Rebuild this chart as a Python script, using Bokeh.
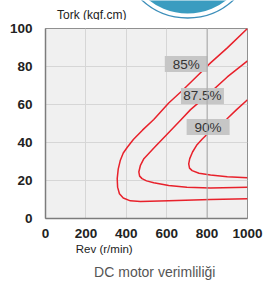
from bokeh.plotting import figure
from bokeh.models import Range1d, FixedTicker, Span
from bokeh.layouts import column
from bokeh.embed import file_html
from bokeh.resources import INLINE
from bokeh.core.properties import value

# ---- data ----
rev_85 = [1000, 900, 817, 751, 680, 610, 536, 480, 436, 405, 385, 370, 360, 355, 357, 366, 385, 420, 470, 610, 817, 1000]
tork_85 = [100, 89.8, 81.9, 75, 67.6, 60.8, 52.1, 46.5, 41.7, 37.5, 34.5, 30.5, 26, 21, 16.5, 13, 10.8, 9.3, 8.9, 9.3, 10.0, 10.4]

rev_875 = [1000, 900, 800, 718, 672, 602, 540, 487, 470, 462, 466, 478, 500, 536, 610, 700, 817, 1000]
tork_875 = [83, 74.5, 64.8, 57.3, 52.1, 44.3, 37.5, 31.5, 28, 24.5, 22.3, 21.0, 19.8, 18.8, 17.4, 16.5, 16.1, 16.5]

rev_90 = [1000, 946, 899, 850, 800, 775, 748, 728, 714, 709, 713, 726, 760, 817, 900, 1000]
tork_90 = [62.5, 57.3, 52.5, 48.3, 44.3, 41.7, 38.5, 35, 31.5, 28.8, 26.5, 25.2, 23.8, 22.9, 22, 21.4]

eff_labels = ["85%", "87.5%", "90%"]
eff_label_rev = [697, 777, 805]
eff_label_tork = [81.3, 64.5, 48.1]

x_ticks = [0, 200, 400, 600, 800, 1000]
y_ticks = [0, 20, 40, 60, 80, 100]

FONT = "Liberation Sans"
RED = "#e8212b"
W = 280

# ---- header (circle decoration + y title) ----
hdr = figure(width=W, height=20, x_range=Range1d(0, W), y_range=Range1d(0, 20),
             toolbar_location=None, output_backend="svg", min_border=0)
hdr.axis.visible = False
hdr.grid.visible = False
hdr.outline_line_color = None
hdr.circle(x=[197], y=[70], radius=63, radius_units="screen",
           fill_color="#3a9cc0", line_color=None)
hdr.circle(x=[197], y=[70], radius=67.5, radius_units="screen",
           fill_color=None, line_color="#3d8fba", line_width=1.3)
hdr.text(x=[16], y=[6], text=["Tork (kgf.cm)"], text_baseline="middle", text_align="left",
         text_font=value(FONT), text_font_size="12px", text_color="#222222")

# ---- main chart ----
p = figure(width=W, height=220, x_range=Range1d(0, 1000), y_range=Range1d(0, 100),
           toolbar_location=None, output_backend="svg",
           min_border_left=45, min_border_right=33, min_border_top=8, min_border_bottom=20)
p.background_fill_color = "#f0f0f0"
p.border_fill_color = "white"
p.outline_line_color = "#909090"
p.outline_line_width = 1

p.xaxis.ticker = FixedTicker(ticks=x_ticks)
p.yaxis.ticker = FixedTicker(ticks=y_ticks)
p.xgrid.ticker = FixedTicker(ticks=x_ticks)
p.ygrid.ticker = FixedTicker(ticks=y_ticks)
p.grid.grid_line_color = "#d6d6d6"
p.grid.grid_line_width = 1

for ax in (p.xaxis[0], p.yaxis[0]):
    ax.major_tick_line_color = None
    ax.minor_tick_line_color = None
    ax.axis_line_color = "#7c7c7c"
    ax.axis_line_width = 1.5
    ax.major_label_text_font = FONT
    ax.major_label_text_font_size = "13.5px"
    ax.major_label_text_font_style = "bold"
    ax.major_label_text_color = "#222222"
p.xaxis.major_label_standoff = 4
p.yaxis.major_label_standoff = 7

p.add_layout(Span(location=800, dimension="height", line_color="#a8a8a8", line_width=1))

for xs, ys in ((rev_85, tork_85), (rev_875, tork_875), (rev_90, tork_90)):
    p.line(xs, ys, line_color=RED, line_width=1.5, line_join="round")

p.rect(x=eff_label_rev, y=eff_label_tork, width=43, height=16, width_units="screen",
       height_units="screen", fill_color="#c6c6c6", line_color=None)
p.text(x=eff_label_rev, y=eff_label_tork, text=eff_labels, text_align="center",
       text_baseline="middle", text_font=value(FONT), text_font_size="13.5px",
       text_color="#333333")

# ---- footer (x title + caption) ----
ftr = figure(width=W, height=41, x_range=Range1d(0, W), y_range=Range1d(0, 41),
             toolbar_location=None, output_backend="svg", min_border=0)
ftr.axis.visible = False
ftr.grid.visible = False
ftr.outline_line_color = None
ftr.text(x=[42], y=[33], text=["Rev (r/min)"], text_baseline="middle", text_align="left",
         text_font=value(FONT), text_font_size="11.5px", text_color="#222222")
ftr.text(x=[151.5], y=[10], text=["DC motor verimliliği"], text_baseline="middle",
         text_align="center", text_font=value(FONT), text_font_size="14px", text_color="#555555")

layout = column(hdr, p, ftr)
open("out.html", "w").write(file_html(layout, INLINE))
